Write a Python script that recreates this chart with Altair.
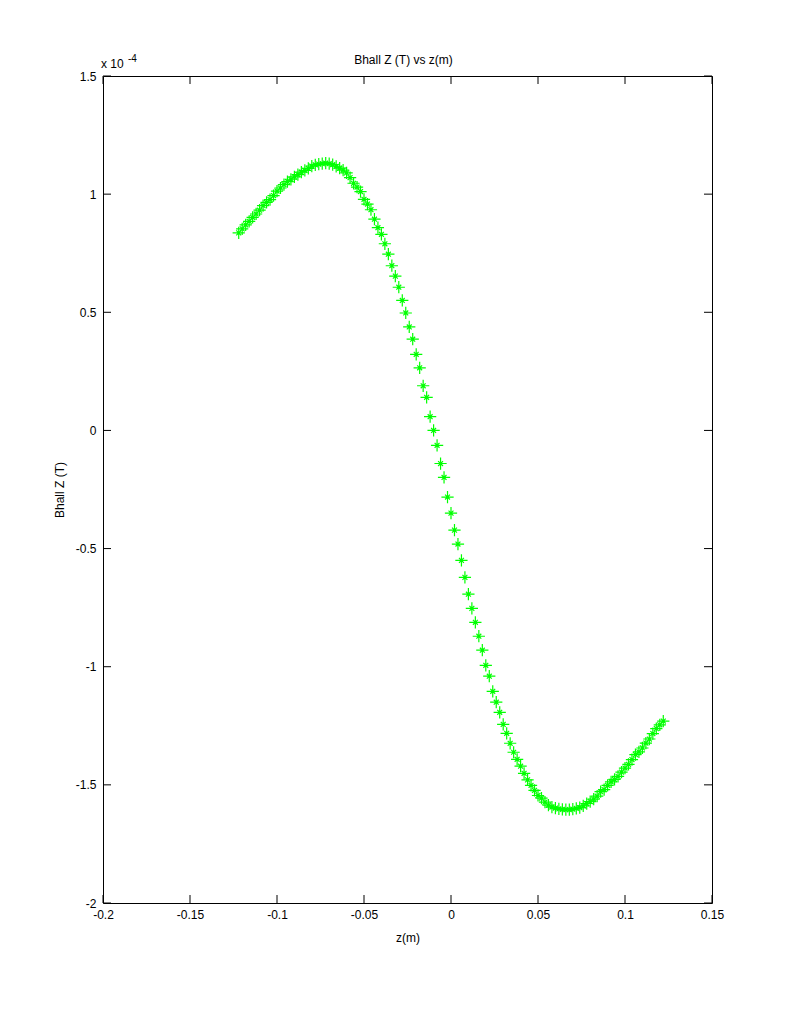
import altair as alt
import pandas as pd

# z positions (m) of the markers
z_m = [
    -0.122, -0.120, -0.118, -0.116, -0.114, -0.112, -0.110, -0.108, -0.106, -0.104,
    -0.102, -0.100, -0.098, -0.096, -0.094, -0.092, -0.090, -0.088, -0.086, -0.084,
    -0.082, -0.080, -0.078, -0.076, -0.074, -0.072, -0.070, -0.068, -0.066, -0.064,
    -0.062, -0.060, -0.058, -0.056, -0.054, -0.052, -0.050, -0.048, -0.046, -0.044,
    -0.042, -0.040, -0.038, -0.036, -0.034, -0.032, -0.030, -0.028, -0.026, -0.024,
    -0.022, -0.020, -0.018, -0.016, -0.014, -0.012, -0.010, -0.008, -0.006, -0.004,
    -0.002, 0.000, 0.002, 0.004, 0.006, 0.008, 0.010, 0.012, 0.014, 0.016,
    0.018, 0.020, 0.022, 0.024, 0.026, 0.028, 0.030, 0.032, 0.034, 0.036,
    0.038, 0.040, 0.042, 0.044, 0.046, 0.048, 0.050, 0.052, 0.054, 0.056,
    0.058, 0.060, 0.062, 0.064, 0.066, 0.068, 0.070, 0.072, 0.074, 0.076,
    0.078, 0.080, 0.082, 0.084, 0.086, 0.088, 0.090, 0.092, 0.094, 0.096,
    0.098, 0.100, 0.102, 0.104, 0.106, 0.108, 0.110, 0.112, 0.114, 0.116,
    0.118, 0.120, 0.122,
]

# Bhall Z in units of 1e-4 T
bhall_e4 = [
    0.836, 0.853, 0.870, 0.885, 0.902, 0.916, 0.932, 0.951, 0.965, 0.977,
    0.994, 1.013, 1.026, 1.040, 1.053, 1.063, 1.073, 1.083, 1.093, 1.101,
    1.109, 1.119, 1.124, 1.127, 1.129, 1.131, 1.129, 1.125, 1.118, 1.110,
    1.102, 1.090, 1.070, 1.046, 1.030, 1.011, 0.978, 0.958, 0.934, 0.894,
    0.858, 0.830, 0.790, 0.746, 0.697, 0.653, 0.606, 0.550, 0.497, 0.438,
    0.386, 0.322, 0.265, 0.189, 0.140, 0.058, 0.000, -0.063, -0.140, -0.199,
    -0.282, -0.350, -0.422, -0.481, -0.550, -0.622, -0.693, -0.753, -0.812, -0.871,
    -0.930, -0.994, -1.040, -1.104, -1.150, -1.193, -1.244, -1.282, -1.324, -1.362,
    -1.392, -1.421, -1.451, -1.479, -1.502, -1.523, -1.545, -1.556, -1.573, -1.586,
    -1.594, -1.598, -1.602, -1.604, -1.605, -1.605, -1.603, -1.600, -1.596, -1.589,
    -1.579, -1.571, -1.560, -1.548, -1.529, -1.520, -1.502, -1.487, -1.477, -1.464,
    -1.446, -1.429, -1.413, -1.393, -1.372, -1.360, -1.344, -1.323, -1.306, -1.283,
    -1.262, -1.246, -1.230,
]

x_ticks = [-0.2, -0.15, -0.1, -0.05, 0.0, 0.05, 0.1, 0.15]
y_ticks = [-2.0, -1.5, -1.0, -0.5, 0.0, 0.5, 1.0, 1.5]

W, H = 609, 827
FONT = "Liberation Sans"
FS = 12
TICK = 8

df = pd.DataFrame({"z": z_m, "b": bhall_e4})
xt = pd.DataFrame({"z": x_ticks})
yt = pd.DataFrame({"b": y_ticks})

label_expr = "replace(format(datum.value, '~g'), '\u2212', '-')"

xaxis = alt.Axis(values=x_ticks, ticks=False, domain=False, grid=False,
                 labelExpr=label_expr, labelFont=FONT, labelFontSize=FS,
                 labelColor="black", labelPadding=6, labelFlush=False,
                 title="z(m)", titleFont=FONT, titleFontSize=FS,
                 titleFontWeight="normal", titleColor="black", titlePadding=12)
yaxis = alt.Axis(values=y_ticks, ticks=False, domain=False, grid=False,
                 labelExpr=label_expr, labelFont=FONT, labelFontSize=FS,
                 labelColor="black", labelPadding=7, labelFlush=False,
                 title="Bhall Z (T)", titleFont=FONT, titleFontSize=FS,
                 titleFontWeight="normal", titleColor="black", titlePadding=9)

xscale = alt.Scale(domain=[-0.2, 0.15], nice=False, zero=False)
yscale = alt.Scale(domain=[-2, 1.5], nice=False, zero=False)

X = alt.X("z:Q", scale=xscale, axis=xaxis)
Y = alt.Y("b:Q", scale=yscale, axis=yaxis)

star = "M-1,0L1,0M0,-1L0,1M-0.4,-0.4L0.4,0.4M-0.4,0.4L0.4,-0.4"

points = alt.Chart(df).mark_point(
    shape=star, size=150, filled=False, stroke="#00ff00", strokeWidth=1.2, opacity=1
).encode(x=X, y=Y)

xt_bottom = alt.Chart(xt).mark_rule(color="black", strokeWidth=1).encode(
    x=X, y=alt.value(H), y2=alt.value(H - TICK))
xt_top = alt.Chart(xt).mark_rule(color="black", strokeWidth=1).encode(
    x=X, y=alt.value(0), y2=alt.value(TICK))
yt_left = alt.Chart(yt).mark_rule(color="black", strokeWidth=1).encode(
    y=Y, x=alt.value(0), x2=alt.value(TICK))
yt_right = alt.Chart(yt).mark_rule(color="black", strokeWidth=1).encode(
    y=Y, x=alt.value(W), x2=alt.value(W - TICK))

one = pd.DataFrame({"t": [""]})
title_txt = alt.Chart(one).mark_text(
    text="Bhall Z (T) vs z(m)", font=FONT, fontSize=FS, color="black",
    align="center", baseline="bottom"
).encode(x=alt.value(W / 2 - 4), y=alt.value(-9))
exp_base = alt.Chart(one).mark_text(
    text="x 10", font=FONT, fontSize=FS, color="black", align="left", baseline="bottom"
).encode(x=alt.value(-2), y=alt.value(-5))
exp_pow = alt.Chart(one).mark_text(
    text="-4", font=FONT, fontSize=10, color="black", align="left", baseline="bottom"
).encode(x=alt.value(25), y=alt.value(-12))

chart = alt.layer(
    points, xt_bottom, xt_top, yt_left, yt_right, title_txt, exp_base, exp_pow
).properties(
    width=W, height=H,
    autosize=alt.AutoSizeParams(type="none"),
    padding={"left": 95, "top": 68, "right": 60, "bottom": 90},
).configure(background="white").configure_view(stroke="black", strokeWidth=1)

chart.save("out.html", embed_options={"renderer": "svg", "actions": False})
